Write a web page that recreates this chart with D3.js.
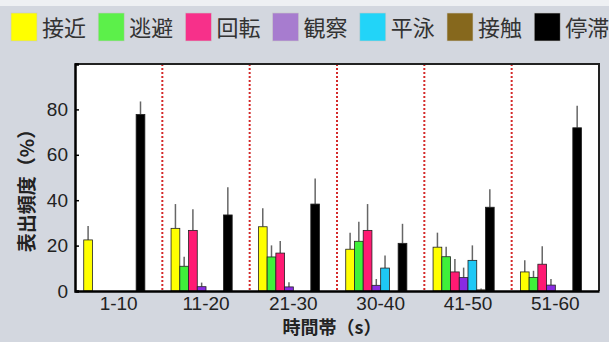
<!DOCTYPE html>
<html>
<head>
<meta charset="utf-8">
<script src="https://cdn.jsdelivr.net/npm/d3@7/dist/d3.min.js"></script>
<style>
  html, body { margin: 0; padding: 0; background: #d3d7df; }
  svg { display: block; }
</style>
</head>
<body>
<svg id="chart" width="609" height="342"></svg>
<script>
// Time windows (s)
const groups = ["1-10", "11-20", "21-30", "30-40", "41-50", "51-60"];
// Behaviour categories and their colours
const behaviours = ["接近", "逃避", "回転", "観察", "平泳", "接触", "停滞"];
const barColors = ["#ffff00", "#3ff03a", "#ff1a73", "#8a2be2", "#1ec8f5", "#86681d", "#000000"];
const legendColors = ["#ffff00", "#5cf04a", "#f7308a", "#a77ccf", "#22d4f8", "#86681d", "#000000"];
// Mean frequency (%) per time window, one array per behaviour
const approach = [22.5, 27.6, 28.3, 18.4, 19.3, 8.4];
const escape   = [0, 10.9, 15.0, 21.9, 15.1, 6.0];
const rotate   = [0, 26.7, 16.7, 26.7, 8.4, 11.8];
const observe  = [0, 1.9, 1.8, 2.5, 5.9, 2.6];
const swim     = [0, 0, 0, 10.1, 13.5, 0];
const contact  = [0, 0, 0, 0, 0.5, 0];
const stall    = [77.8, 33.5, 38.3, 21.0, 36.9, 71.9];
// Upper error (%) per time window
const approachErr = [6.1, 10.7, 8.1, 7.3, 6.4, 5.1];
const escapeErr   = [0, 4.2, 5.1, 8.6, 4.4, 2.9];
const rotateErr   = [0, 9.3, 5.3, 11.6, 5.7, 7.9];
const observeErr  = [0, 1.8, 2.0, 2.8, 4.4, 2.7];
const swimErr     = [0, 0, 0, 5.5, 6.6, 0];
const contactErr  = [0, 0, 0, 0, 0.6, 0];
const stallErr    = [5.7, 12.2, 11.3, 8.6, 7.9, 9.7];
const yTicks = [0, 20, 40, 60, 80];

const values = [approach, escape, rotate, observe, swim, contact, stall];
const errors = [approachErr, escapeErr, rotateErr, observeErr, swimErr, contactErr, stallErr];

const svg = d3.select("#chart");
const fontNum = "'Liberation Sans', 'Noto Sans CJK JP', sans-serif";
const fontCJK = "'Noto Sans CJK JP', sans-serif";

// thin light strip along the top edge
svg.append("rect").attr("x", 0).attr("y", 0).attr("width", 609).attr("height", 6).attr("fill", "#eef0f3");

const plot = { left: 75, right: 599, top: 64, bottom: 291 };

const x0 = d3.scaleBand().domain(groups).range([plot.left, plot.right]);
const slot = x0.bandwidth() / 10;
const x1 = d3.scaleBand().domain(behaviours).range([slot, slot * 8]);
const y = d3.scaleLinear().domain([0, 100]).range([plot.bottom, plot.top]);

// plot background
svg.append("rect")
  .attr("x", plot.left).attr("y", plot.top)
  .attr("width", plot.right - plot.left).attr("height", plot.bottom - plot.top)
  .attr("fill", "#ffffff");

// dotted separators between time windows
svg.append("g").selectAll("line")
  .data(groups.slice(1))
  .join("line")
  .attr("x1", d => x0(d)).attr("x2", d => x0(d))
  .attr("y1", plot.top).attr("y2", plot.bottom)
  .attr("stroke", "#d42a2a").attr("stroke-width", 2)
  .attr("stroke-dasharray", "2,2");

// bars + error bars
const gGroups = svg.append("g").selectAll("g")
  .data(groups)
  .join("g")
  .attr("transform", d => `translate(${x0(d)},0)`);

const cells = gGroups.selectAll("g.cell")
  .data((g, gi) => behaviours.map((b, bi) => ({ b, bi, v: values[bi][gi], e: errors[bi][gi] })))
  .join("g").attr("class", "cell")
  .filter(d => d.v > 0);

cells.append("line")
  .attr("x1", d => x1(d.b) + x1.bandwidth() / 2)
  .attr("x2", d => x1(d.b) + x1.bandwidth() / 2)
  .attr("y1", d => y(d.v))
  .attr("y2", d => y(d.v + d.e))
  .attr("stroke", "#666").attr("stroke-width", 1.5);

cells.append("rect")
  .attr("x", d => x1(d.b))
  .attr("y", d => y(d.v))
  .attr("width", x1.bandwidth())
  .attr("height", d => y(0) - y(d.v))
  .attr("fill", d => barColors[d.bi])
  .attr("stroke", "#222").attr("stroke-width", 0.8);

// frame: top and right borders
svg.append("path")
  .attr("d", `M${plot.left},${plot.top}H${plot.right}V${plot.bottom}`)
  .attr("fill", "none").attr("stroke", "#222").attr("stroke-width", 2);

// y axis (ticks point inward)
const yAxis = svg.append("g")
  .attr("transform", `translate(${plot.left},0)`)
  .call(d3.axisLeft(y).tickValues(yTicks).tickSize(-4).tickPadding(7));
yAxis.select(".domain").attr("stroke", "#000").attr("stroke-width", 2.5);
yAxis.selectAll(".tick line").attr("stroke", "#000").attr("stroke-width", 1.5);
yAxis.selectAll("text").attr("font-size", 19).attr("font-family", fontNum).attr("fill", "#222");

// x axis
const xAxis = svg.append("g")
  .attr("transform", `translate(0,${plot.bottom})`)
  .call(d3.axisBottom(x0).tickSize(0).tickPadding(6));
xAxis.select(".domain").attr("stroke", "#000").attr("stroke-width", 2.5);
xAxis.selectAll("text").attr("font-size", 19).attr("font-family", fontNum).attr("fill", "#222");

// axis titles
svg.append("text")
  .attr("transform", "translate(34,186) rotate(-90)")
  .attr("text-anchor", "middle")
  .attr("font-size", 19).attr("font-weight", "bold")
  .attr("font-family", fontCJK).attr("fill", "#222")
  .text("表出頻度（%）");

svg.append("text")
  .attr("x", 332).attr("y", 334)
  .attr("text-anchor", "middle")
  .attr("font-size", 18).attr("font-weight", "bold")
  .attr("font-family", fontCJK).attr("fill", "#222")
  .text("時間帯（s）");

// legend
const legend = svg.append("g").selectAll("g")
  .data(behaviours)
  .join("g")
  .attr("transform", (d, i) => `translate(${11 + i * 87.2},13)`);
legend.append("rect")
  .attr("width", 26).attr("height", 28)
  .attr("fill", (d, i) => legendColors[i])
  .attr("stroke", "#c8c8c8").attr("stroke-width", 0.6);
legend.append("text")
  .attr("x", 31).attr("y", 23)
  .attr("font-size", 22)
  .attr("font-family", fontCJK)
  .attr("fill", "#333")
  .text(d => d);
</script>
</body>
</html>
